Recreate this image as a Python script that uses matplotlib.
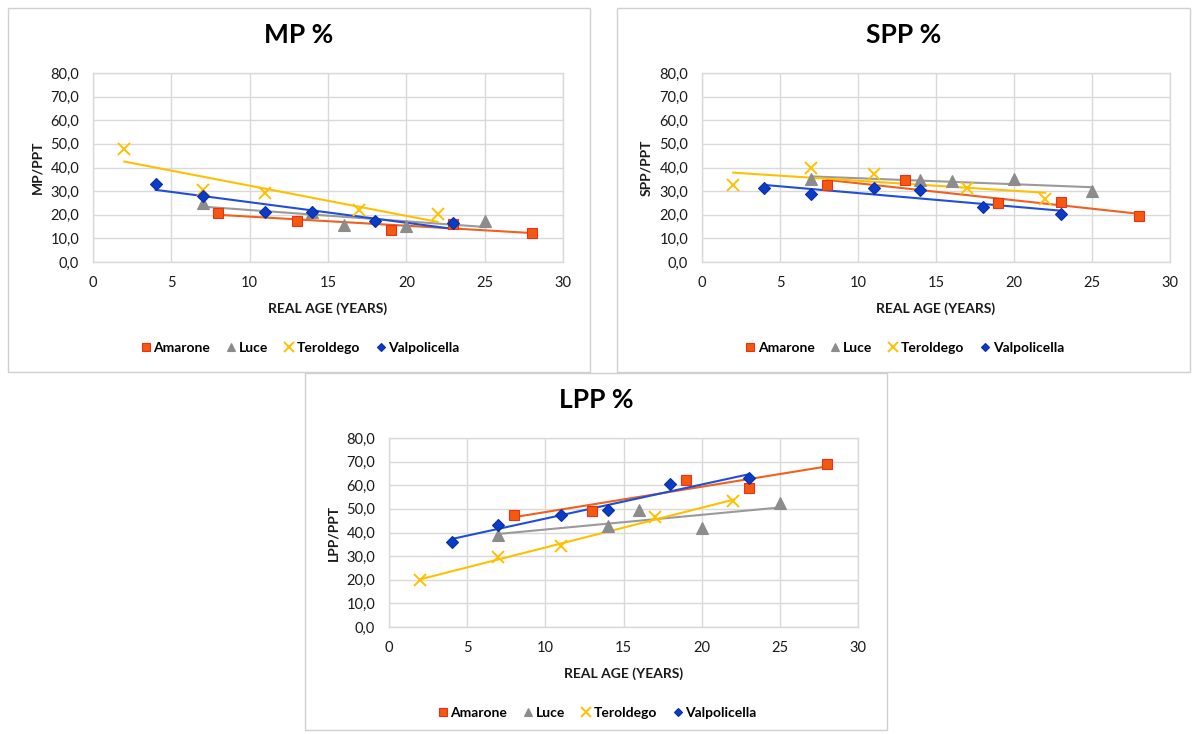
import numpy as np
import matplotlib
matplotlib.use("Agg")
import matplotlib.pyplot as plt
from matplotlib.patches import Rectangle
from matplotlib.ticker import FuncFormatter, MultipleLocator

plt.rcParams['font.family'] = ['Lato', 'DejaVu Sans']

# ---- data ----
amarone_x = [8, 13, 19, 23, 28]
luce_x = [7, 14, 16, 20, 25]
teroldego_x = [2, 7, 11, 17, 22]
valpo_x = [4, 7, 11, 14, 18, 23]

mp_amarone = [20.9, 17.4, 13.7, 16.1, 12.1]
mp_luce = [25.1, 21.0, 15.7, 15.4, 17.5]
mp_teroldego = [48.0, 30.5, 29.4, 21.9, 20.2]
mp_valpo = [33.2, 28.0, 21.2, 21.0, 17.3, 16.4]

spp_amarone = [32.4, 34.9, 25.0, 25.6, 19.3]
spp_luce = [35.3, 34.9, 34.1, 35.0, 29.9]
spp_teroldego = [32.7, 40.0, 37.4, 31.4, 26.7]
spp_valpo = [31.3, 28.9, 31.4, 30.3, 23.1, 20.3]

lpp_amarone = [47.6, 49.3, 62.1, 59.0, 69.2]
lpp_luce = [39.1, 42.9, 49.7, 41.9, 52.6]
lpp_teroldego = [19.9, 29.5, 34.1, 46.6, 53.3]
lpp_valpo = [35.9, 43.3, 47.3, 49.7, 60.4, 63.2]

series_names = ["Amarone", "Luce", "Teroldego", "Valpolicella"]
titles = ["MP %", "SPP %", "LPP %"]
ylabels = ["MP/PPT", "SPP/PPT", "LPP/PPT"]
xlabel = "REAL AGE (YEARS)"

W, H = 1193, 734
fig = plt.figure(figsize=(W / 100, H / 100), dpi=100)

def fx(px):
    return px / W

def fy(py):
    return 1 - py / H

styles = [
    dict(marker='s', ms=7, mfc='#F35A0F', mec='#E8311A', mew=0.8, lc='#F0601E'),
    dict(marker='^', ms=8, mfc='#8C8C8C', mec='#8C8C8C', mew=0.8, lc='#9A9A9A'),
    dict(marker='x', ms=9, mfc='#FFC000', mec='#FFC000', mew=1.4, lc='#FFC000'),
    dict(marker='D', ms=6, mfc='#0A3CC8', mec='#0A2FA0', mew=0.8, lc='#1F4FD8'),
]

panels = [
    ((8, 8, 590, 372), (93, 73, 563, 262),
     [(amarone_x, mp_amarone), (luce_x, mp_luce), (teroldego_x, mp_teroldego), (valpo_x, mp_valpo)]),
    ((617, 8, 1190, 372), (702, 73, 1170, 262),
     [(amarone_x, spp_amarone), (luce_x, spp_luce), (teroldego_x, spp_teroldego), (valpo_x, spp_valpo)]),
    ((305, 373, 887, 730), (389, 438, 858, 627),
     [(amarone_x, lpp_amarone), (luce_x, lpp_luce), (teroldego_x, lpp_teroldego), (valpo_x, lpp_valpo)]),
]

fmt = FuncFormatter(lambda v, p: f"{v:.1f}".replace('.', ','))

for i, (frame, axr, data) in enumerate(panels):
    fx0, fy0, fx1, fy1 = frame
    fig.patches.append(Rectangle((fx(fx0), fy(fy1)), fx(fx1 - fx0), (fy1 - fy0) / H,
                                 transform=fig.transFigure, facecolor='white',
                                 edgecolor='#D0D0D0', lw=1.0, zorder=-5))
for i, (frame, axr, data) in enumerate(panels):
    fx0, fy0, fx1, fy1 = frame
    ax0, ay0, ax1, ay1 = axr
    ax = fig.add_axes([fx(ax0), fy(ay1), fx(ax1 - ax0), (ay1 - ay0) / H], zorder=2)
    ax.set_xlim(0, 30)
    ax.set_ylim(0, 80)
    ax.xaxis.set_major_locator(MultipleLocator(5))
    ax.yaxis.set_major_locator(MultipleLocator(10))
    ax.yaxis.set_major_formatter(fmt)
    ax.grid(True, color='#D9D9D9', lw=1.0)
    ax.set_axisbelow(True)
    for s in ax.spines.values():
        s.set_color('#D9D9D9')
        s.set_linewidth(1.0)
    ax.tick_params(axis='x', length=0, labelsize=10.5, colors='#1a1a1a', pad=10)
    ax.tick_params(axis='y', length=0, labelsize=10.5, colors='#1a1a1a', pad=10)
    ax.set_xlabel(xlabel, fontsize=10, fontweight='bold', labelpad=9, color='#1a1a1a')
    ax.set_ylabel(ylabels[i], fontsize=10, fontweight='bold', labelpad=5, color='#1a1a1a')
    handles = []
    for (xs, ys), st, name in zip(data, styles, series_names):
        xs = np.array(xs, float)
        ys = np.array(ys, float)
        m, b = np.polyfit(xs, ys, 1)
        xx = np.array([xs.min(), xs.max()])
        ax.plot(xx, m * xx + b, color=st['lc'], lw=1.5, zorder=2)
        h, = ax.plot(xs, ys, linestyle='none', marker=st['marker'], ms=st['ms'],
                     mfc=st['mfc'], mec=st['mec'], mew=st['mew'], zorder=3, label=name)
        handles.append(h)
    cx = (fx0 + fx1) / 2
    fig.text(fx(cx), fy(ay0 - 38), titles[i], ha='center', va='center',
             fontsize=19, fontweight='bold', color='black')
    leg_y = ay1 + 86
    fig.legend(handles=handles, loc='center', bbox_to_anchor=(fx(cx), fy(leg_y)),
               ncol=4, frameon=False, handletextpad=0.05,
               columnspacing=1.0, handlelength=1.0, markerscale=0.75,
               prop={'weight': 'bold', 'size': 10})

fig.savefig("out.png", dpi=100)
